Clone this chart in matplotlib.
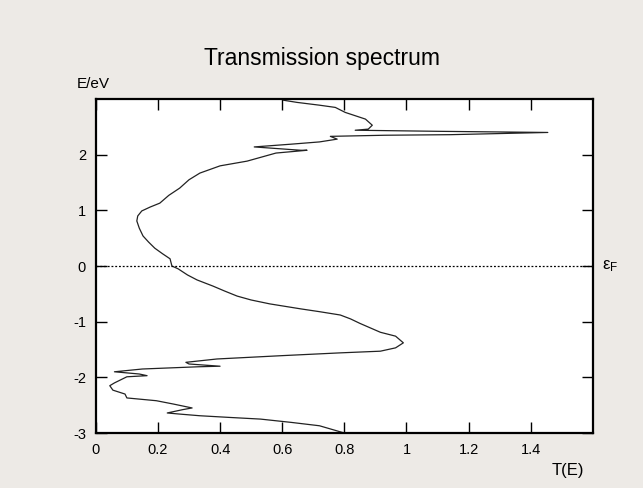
import numpy as np
import matplotlib.pyplot as plt

plt.rcParams['font.family'] = ['Liberation Sans', 'DejaVu Sans']
plt.rcParams['mathtext.fontset'] = 'custom'
plt.rcParams['mathtext.rm'] = 'Liberation Sans'
plt.rcParams['mathtext.it'] = 'Liberation Sans'
plt.rcParams['axes.unicode_minus'] = False

# transmission T(E), from top (E ~ 3) to bottom (E = -3)
T = [0.603, 0.648, 0.720, 0.771, 0.803, 0.868, 0.890, 0.877, 0.835, 1.11,
     1.455, 1.14, 0.93, 0.755, 0.777, 0.72, 0.63, 0.51, 0.66, 0.68,
     0.58, 0.487, 0.40, 0.335, 0.30, 0.27, 0.235, 0.206, 0.175, 0.148,
     0.135, 0.132, 0.140, 0.152, 0.17, 0.19, 0.215, 0.239, 0.245, 0.265,
     0.295, 0.326, 0.377, 0.415, 0.455, 0.50, 0.56, 0.66, 0.72, 0.787,
     0.82, 0.85, 0.916, 0.965, 0.99, 0.965, 0.916, 0.787, 0.60, 0.39,
     0.29, 0.30, 0.40, 0.33, 0.15, 0.06, 0.14, 0.165, 0.10, 0.06,
     0.045, 0.055, 0.094, 0.10, 0.195, 0.25, 0.31, 0.28, 0.23, 0.27,
     0.335, 0.43, 0.53, 0.63, 0.72, 0.80]
E = [2.98, 2.94, 2.89, 2.85, 2.76, 2.64, 2.53, 2.46, 2.44, 2.42,
     2.40, 2.36, 2.35, 2.33, 2.28, 2.23, 2.19, 2.14, 2.08, 2.08,
     2.03, 1.885, 1.80, 1.67, 1.55, 1.40, 1.27, 1.13, 1.06, 0.99,
     0.90, 0.81, 0.68, 0.54, 0.43, 0.32, 0.22, 0.13, 0.0, -0.05,
     -0.16, -0.25, -0.36, -0.45, -0.54, -0.61, -0.68, -0.77, -0.82, -0.88,
     -0.95, -1.03, -1.19, -1.26, -1.38, -1.47, -1.53, -1.56, -1.61, -1.67,
     -1.73, -1.76, -1.80, -1.81, -1.85, -1.90, -1.94, -1.97, -1.99, -2.10,
     -2.15, -2.23, -2.30, -2.37, -2.42, -2.48, -2.55, -2.58, -2.64, -2.66,
     -2.69, -2.72, -2.75, -2.81, -2.87, -3.0]

xticks = [0, 0.2, 0.4, 0.6, 0.8, 1, 1.2, 1.4]
yticks = [-3, -2, -1, 0, 1, 2]

fig = plt.figure(figsize=(6.43, 4.88), dpi=100, facecolor='#edeae6')
ax = fig.add_axes([0.149, 0.1127, 0.773, 0.6843])
ax.set_facecolor('white')

ax.plot(T, E, color='#222222', lw=0.9)
ax.axhline(0, color='black', lw=0.9, ls=(0, (1.5, 1.5)))

ax.set_xlim(0, 1.6)
ax.set_ylim(-3, 3)
ax.set_xticks(xticks)
ax.set_xticklabels([str(t) for t in xticks])
ax.set_yticks(yticks)
ax.tick_params(direction='in', length=8, width=1, top=True, right=True,
               labelsize=10.5, pad=7)
for s in ax.spines.values():
    s.set_linewidth(1.6)

fig.text(0.5, 0.881, 'Transmission spectrum', ha='center', va='center', fontsize=16.5)
fig.text(0.12, 0.82, 'E/eV', fontsize=11)
fig.text(0.858, 0.027, 'T(E)', fontsize=12)
fig.text(0.936, 0.448, r'$\varepsilon_\mathrm{F}$', fontsize=12)

plt.savefig('out.png', dpi=100, facecolor=fig.get_facecolor())
